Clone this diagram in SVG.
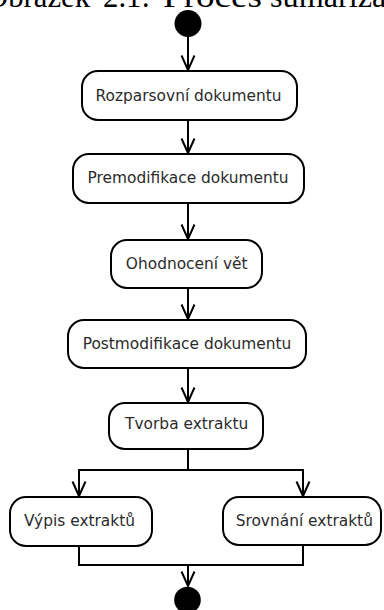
<svg xmlns="http://www.w3.org/2000/svg" width="384" height="610" viewBox="0 0 384 610">
<style>
.node rect{fill:#fff;stroke:#000;stroke-width:2}
.node text{font-family:"DejaVu Sans",sans-serif;font-size:15.4px;fill:#2b2b2b;text-anchor:middle}
.conn path{fill:none;stroke:#000;stroke-width:2}
.title{font-family:"Liberation Serif",serif;font-size:32px;fill:#000}
</style>
<defs>
<marker id="arr" markerUnits="userSpaceOnUse" markerWidth="1" markerHeight="1" orient="auto" overflow="visible">
<path d="M-14.5,-6.5 L0,0 L-14.5,6.5" fill="none" stroke="#000" stroke-width="2"/>
</marker>
</defs>
<rect width="384" height="610" fill="#fff"/>
<g id="caption">
<text class="title" x="-14" y="7" textLength="104" lengthAdjust="spacingAndGlyphs">Obrázek</text>
<text class="title" x="103" y="7" textLength="47" lengthAdjust="spacingAndGlyphs">2.1:</text>
<text class="title" x="163" y="7" textLength="99" lengthAdjust="spacingAndGlyphs">Proces</text>
<text class="title" x="270" y="7" textLength="145" lengthAdjust="spacingAndGlyphs">sumarizace</text>
</g>
<g class="conn">
<path d="M188,37 V70" marker-end="url(#arr)"/>
<path d="M188,120 V153" marker-end="url(#arr)"/>
<path d="M188,203 V239" marker-end="url(#arr)"/>
<path d="M188,288 V319" marker-end="url(#arr)"/>
<path d="M188,368 V402" marker-end="url(#arr)"/>
<path d="M188,449 V470 H79 V496" marker-end="url(#arr)"/>
<path d="M188,470 H303 V496" marker-end="url(#arr)"/>
<path d="M79,546 V565 H303 V546"/>
<path d="M188,565 V586" marker-end="url(#arr)"/>
</g>
<g id="start"><circle cx="188" cy="23.5" r="13.5" fill="#000"/></g>
<g id="n1" class="node"><rect x="82" y="71" width="215" height="49" rx="16"/><text x="188.5" y="101">Rozparsovní dokumentu</text></g>
<g id="n2" class="node"><rect x="73" y="154" width="231" height="49" rx="16"/><text x="188" y="182.5">Premodifikace dokumentu</text></g>
<g id="n3" class="node"><rect x="111" y="240" width="151" height="48" rx="16"/><text x="186.7" y="268.5">Ohodnocení vět</text></g>
<g id="n4" class="node"><rect x="68" y="320" width="238" height="48" rx="16"/><text x="187" y="348.5">Postmodifikace dokumentu</text></g>
<g id="n5" class="node"><rect x="109" y="403" width="154" height="46" rx="16"/><text x="186.7" y="428.5">Tvorba extraktu</text></g>
<g id="n6" class="node"><rect x="10" y="497" width="142" height="49" rx="16"/><text x="79.5" y="526">Výpis extraktů</text></g>
<g id="n7" class="node"><rect x="223" y="497" width="158" height="48" rx="16"/><text x="304.3" y="526">Srovnání extraktů</text></g>
<g id="end"><circle cx="187.5" cy="600" r="13.3" fill="#000"/></g>
</svg>
